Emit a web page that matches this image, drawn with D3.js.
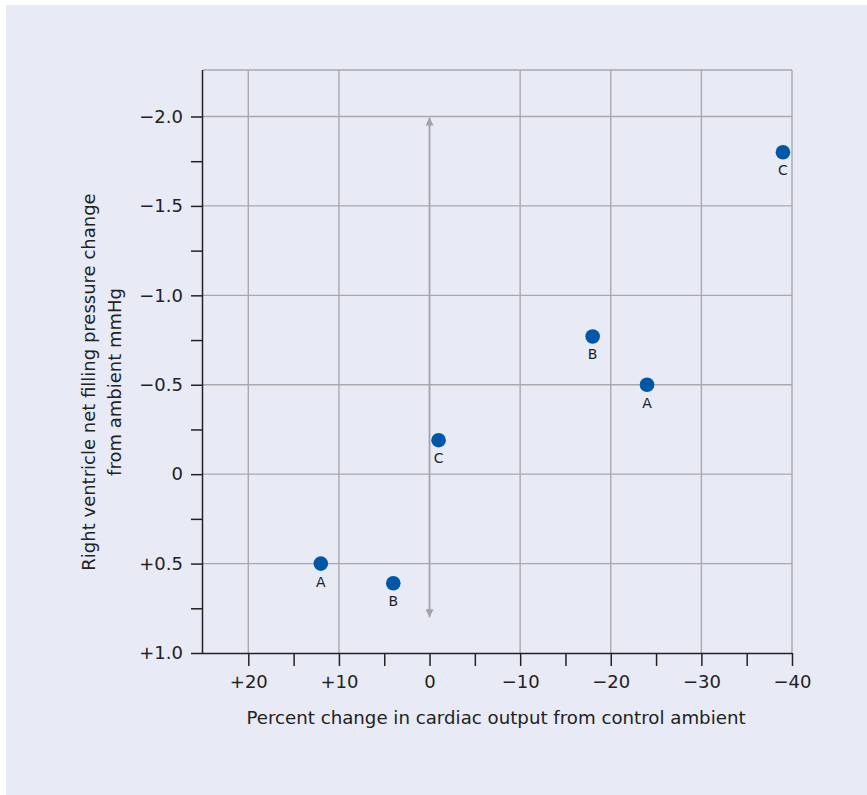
<!DOCTYPE html>
<html><head><meta charset="utf-8">
<script src="https://cdn.jsdelivr.net/npm/d3@7"></script>
<style>
html,body{margin:0;padding:0;background:#fff;}
svg{display:block;}
text{font-family:"DejaVu Sans",sans-serif;fill:#222;}
</style></head>
<body>
<svg id="chart" width="867" height="795"></svg>
<script>
// Data
const pointLabels = ["A", "B", "C", "B", "A", "C"];
const cardiacOutputChange = [12, 4, -1, -18, -24, -39];
const fillingPressureChange = [0.5, 0.61, -0.19, -0.77, -0.5, -1.8];
const xTickValues = [20, 15, 10, 5, 0, -5, -10, -15, -20, -25, -30, -35, -40];
const xTickLabels = {"20": "+20", "10": "+10", "0": "0", "-10": "\u221210", "-20": "\u221220", "-30": "\u221230", "-40": "\u221240"};
const yTickValues = [1.0, 0.75, 0.5, 0.25, 0, -0.25, -0.5, -0.75, -1.0, -1.25, -1.5, -1.75, -2.0];
const yTickLabels = {"1": "+1.0", "0.5": "+0.5", "0": "0", "-0.5": "\u22120.5", "-1": "\u22121.0", "-1.5": "\u22121.5", "-2": "\u22122.0"};
const xGridValues = [20, 10, -10, -20, -30, -40];
const yGridValues = [0.5, 0, -0.5, -1.0, -1.5, -2.0];
const arrowRange = [-2.0, 0.8];
const xTitle = "Percent change in cardiac output from control ambient";
const yTitleLines = ["Right ventricle net filling pressure change", "from ambient mmHg"];

const FONT = "DejaVu Sans, sans-serif";
const svg = d3.select("#chart");
svg.append("rect").attr("x", 6).attr("y", 5).attr("width", 861).attr("height", 790).attr("fill", "#e8eaf6");

const L = 203, R = 792, T = 70, B = 653;
const x = d3.scaleLinear().domain([25, -40]).range([L, R]);
const y = d3.scaleLinear().domain([1.0, -2.26]).range([B, T]);

const gridColor = "#a9a9ad";
// grid
svg.append("g").selectAll("line").data(xGridValues).join("line")
  .attr("x1", d => x(d)).attr("x2", d => x(d)).attr("y1", T).attr("y2", B)
  .attr("stroke", gridColor).attr("stroke-width", 1.4);
svg.append("g").selectAll("line").data(yGridValues).join("line")
  .attr("x1", L).attr("x2", R).attr("y1", d => y(d)).attr("y2", d => y(d))
  .attr("stroke", gridColor).attr("stroke-width", 1.4);
// top frame
svg.append("line").attr("x1", L).attr("x2", R).attr("y1", T).attr("y2", T)
  .attr("stroke", gridColor).attr("stroke-width", 1.4);

// arrow
const defs = svg.append("defs");
defs.append("marker").attr("id", "ah").attr("viewBox", "0 0 10 10")
  .attr("refX", 10).attr("refY", 5).attr("markerWidth", 14).attr("markerHeight", 8)
  .attr("markerUnits", "userSpaceOnUse").attr("orient", "auto-start-reverse")
  .append("path").attr("d", "M0,0 L10,5 L0,10 Z").attr("fill", "#a3a3a8");
svg.append("line").attr("x1", x(0)).attr("x2", x(0))
  .attr("y1", y(arrowRange[0]) + 1).attr("y2", y(arrowRange[1]))
  .attr("stroke", "#a3a3a8").attr("stroke-width", 1.8)
  .attr("marker-start", "url(#ah)").attr("marker-end", "url(#ah)");

// axes
const xAxis = d3.axisBottom(x).tickValues(xTickValues).tickSize(13).tickPadding(9)
  .tickFormat(d => xTickLabels[String(d)] || "");
const gx = svg.append("g").attr("transform", `translate(0,${B})`).call(xAxis);
gx.select(".domain").attr("d", `M${L},0.5H${R}`).attr("stroke", "#222").attr("stroke-width", 1.5);
gx.selectAll(".tick line").attr("stroke", "#222").attr("stroke-width", 1.5);
gx.selectAll(".tick text").attr("font-size", 18).style("font-family", FONT).attr("fill", "#222");

const yAxis = d3.axisLeft(y).tickValues(yTickValues).tickSize(12).tickPadding(8)
  .tickFormat(d => yTickLabels[String(d)] || "");
const gy = svg.append("g").attr("transform", `translate(${L},0)`).call(yAxis);
gy.select(".domain").attr("d", `M-0.5,${T}V${B}`).attr("stroke", "#222").attr("stroke-width", 1.5);
gy.selectAll(".tick line").attr("stroke", "#222").attr("stroke-width", 1.5);
gy.selectAll(".tick text").attr("font-size", 18).style("font-family", FONT).attr("fill", "#222");

// titles
svg.append("text").attr("x", 496).attr("y", 724).attr("text-anchor", "middle")
  .attr("font-size", 18.2).text(xTitle);
const yt = svg.append("text").attr("transform", "translate(95,382) rotate(-90)")
  .attr("text-anchor", "middle").attr("font-size", 18);
yTitleLines.forEach((t, i) => yt.append("tspan").attr("x", 0).attr("y", i * 26).text(t));

// points
const pts = pointLabels.map((l, i) => ({l, xv: cardiacOutputChange[i], yv: fillingPressureChange[i]}));
const g = svg.append("g");
g.selectAll("circle").data(pts).join("circle")
  .attr("cx", d => x(d.xv)).attr("cy", d => y(d.yv)).attr("r", 7.3).attr("fill", "#0057a8");
g.selectAll("text").data(pts).join("text")
  .attr("x", d => x(d.xv)).attr("y", d => y(d.yv) + 23).attr("text-anchor", "middle")
  .attr("font-size", 14).text(d => d.l);
</script>
</body></html>
